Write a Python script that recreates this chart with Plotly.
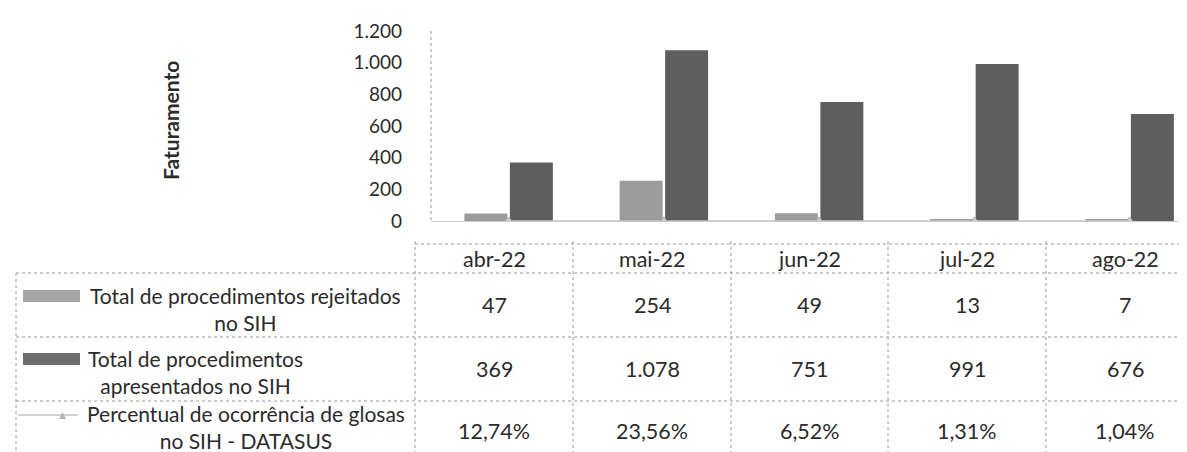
import plotly.graph_objects as go

# ---------------- data ----------------
months = ["abr-22", "mai-22", "jun-22", "jul-22", "ago-22"]
rejeitados = [47, 254, 49, 13, 7]
apresentados = [369, 1078, 751, 991, 676]
percentual = [12.74, 23.56, 6.52, 1.31, 1.04]   # %

serie_nomes = [
    ("Total de procedimentos rejeitados", "no SIH"),
    ("Total de procedimentos", "apresentados no SIH"),
    ("Percentual de ocorrência de glosas", "no SIH - DATASUS"),
]
y_ticks = [0, 200, 400, 600, 800, 1000, 1200]

# ---------------- layout constants (pixels) ----------------
W, H = 1187, 452
L, R, T, B = 423, 1187, 23, 213
CAT_W = 155.25                      # category width in px (plot extends past the crop)
FONT = "Lato"
TS = 21.5                           # table value font size
LS = 21                             # legend-column font size
C_REJ = "#9c9c9c"
C_APR = "#5e5e5e"
C_LIN = "#c4c4c4"
C_GRID = "#9a9a9a"
C_TXT = "#2b2b2b"


def px(x):
    return (x - L) / (R - L)


def py(y):
    return (B - y) / (B - T)


def fmt_int(v):
    return f"{v:,}".replace(",", ".")


def fmt_pct(v):
    return f"{v:.2f}%".replace(".", ",")


fig = go.Figure()
fig.add_trace(go.Bar(x=months, y=rejeitados, name=" ".join(serie_nomes[0]),
                     marker=dict(color=C_REJ, line=dict(width=0))))
fig.add_trace(go.Bar(x=months, y=apresentados, name=" ".join(serie_nomes[1]),
                     marker=dict(color=C_APR, line=dict(width=0))))
fig.add_trace(go.Scatter(x=months, y=[p / 100 for p in percentual], name=" ".join(serie_nomes[2]),
                         mode="lines+markers",
                         line=dict(color=C_LIN, width=1.5),
                         marker=dict(symbol="triangle-up", size=8, color="#cfcfcf",
                                     line=dict(color="#a8a8a8", width=1))))

shapes = []
annotations = []


def hline(y, x0, x1):
    shapes.append(dict(type="line", xref="paper", yref="paper",
                       x0=px(x0), x1=px(x1), y0=py(y), y1=py(y),
                       line=dict(color=C_GRID, width=1, dash="dot")))


def vline(x, y0, y1):
    shapes.append(dict(type="line", xref="paper", yref="paper",
                       x0=px(x), x1=px(x), y0=py(y0), y1=py(y1),
                       line=dict(color=C_GRID, width=1, dash="dot")))


def text(s, x, y, size=TS, anchor="center", bold=False):
    annotations.append(dict(text=f"<b>{s}</b>" if bold else s, xref="paper", yref="paper",
                            x=px(x), y=py(y), xanchor=anchor, yanchor="middle",
                            align="center", borderpad=0,
                            showarrow=False, font=dict(family=FONT, size=size, color=C_TXT)))


# y axis dotted line
vline(L, T, B)

# table grid
col_edges = [407, 565, 723, 880, 1038, 1196]
row_edges = [236, 265, 329, 393]
hline(row_edges[0], col_edges[0], W)
for y in row_edges[1:]:
    hline(y, 8, W)
for x in col_edges[:-1]:
    vline(x, row_edges[0] - 3, H)
vline(8, row_edges[1], H)

# header + values
col_centers = [(col_edges[i] + col_edges[i + 1]) / 2 for i in range(5)]
row_centers = [251, 297, 361, 423]
for i, m in enumerate(months):
    text(m, col_centers[i], row_centers[0])
    text(fmt_int(rejeitados[i]), col_centers[i], row_centers[1])
    text(fmt_int(apresentados[i]), col_centers[i], row_centers[2])
    text(fmt_pct(percentual[i]), col_centers[i], row_centers[3])

# legend column (two centred lines per series, one block each)
leg_blocks = [(301, 237), (364, 187), (419, 238)]
for k, (yc, xc) in enumerate(leg_blocks):
    text("<br>".join(serie_nomes[k]), xc, yc, size=LS)

# legend keys (beside the first line of each block)
key_y = [288, 351, 406]
for k, col in enumerate(["#a6a6a6", "#6e6e6e"]):
    yk = key_y[k]
    shapes.append(dict(type="rect", xref="paper", yref="paper",
                       x0=px(15), x1=px(72), y0=py(yk + 6), y1=py(yk - 6),
                       fillcolor=col, line=dict(width=0)))
yk = key_y[2] + 1
shapes.append(dict(type="line", xref="paper", yref="paper",
                   x0=px(10), x1=px(70), y0=py(yk), y1=py(yk),
                   line=dict(color=C_LIN, width=1.5)))
annotations.append(dict(text="▲", xref="paper", yref="paper", x=px(54), y=py(yk),
                        xanchor="center", yanchor="middle", showarrow=False,
                        font=dict(family="DejaVu Sans", size=9, color="#b4b4b4")))

# y axis title
text("Faturamento", 162, 113, size=21, bold=True)
annotations[-1]["textangle"] = -90

fig.update_layout(
    width=W, height=H,
    margin=dict(l=L, r=W - R, t=T, b=H - B, pad=0),
    paper_bgcolor="white", plot_bgcolor="white",
    separators=",.",
    barmode="group", bargap=0.414, bargroupgap=0.055,
    showlegend=False,
    shapes=shapes, annotations=annotations,
    font=dict(family=FONT, color=C_TXT),
    xaxis=dict(showticklabels=False, ticks="", showgrid=False, zeroline=False,
               range=[-0.5, -0.5 + (R - L) / CAT_W],
               showline=True, linecolor="#cccccc", linewidth=1),
    yaxis=dict(range=[0, 1200], tickvals=y_ticks, tickformat=",d",
               showgrid=False, zeroline=False, showline=False,
               ticklabelstandoff=28,
               tickfont=dict(family=FONT, size=19, color=C_TXT)),
)

fig.write_html("out.html")
